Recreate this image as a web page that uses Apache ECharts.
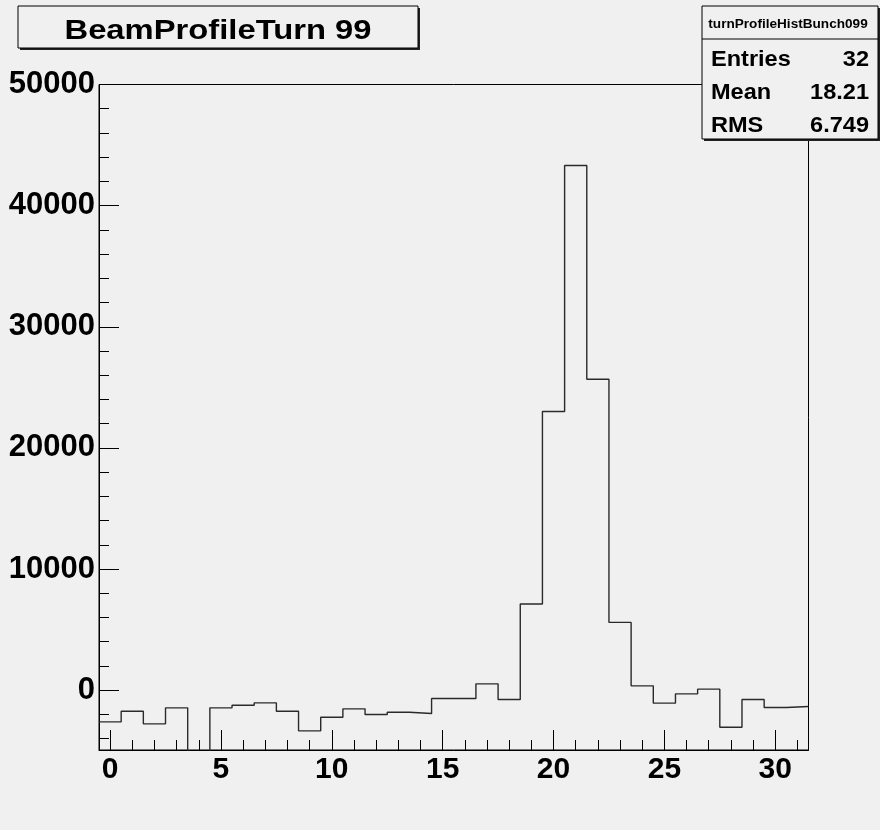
<!DOCTYPE html>
<html>
<head>
<meta charset="utf-8">
<script src="https://cdn.jsdelivr.net/npm/echarts@6/dist/echarts.min.js"></script>
<style>
html,body{margin:0;padding:0;background:#f0f0f0;}
#chart{width:880px;height:830px;}
</style>
</head>
<body>
<div id="chart"></div>
<script>
// ---- data ----
var titleText = "BeamProfileTurn 99";
var histName = "turnProfileHistBunch099";
var statsLabels = ["Entries", "Mean", "RMS"];
var statsValues = ["32", "18.21", "6.749"];
var binCenters = [0,1,2,3,4,5,6,7,8,9,10,11,12,13,14,15,16,17,18,19,20,21,22,23,24,25,26,27,28,29,30,31];
var binValues = [-2620,-1736,-2782,-1460,-5500,-1460,-1240,-1047,-1736,-3360,
                 -2231,-1543,-2011,-1818,-1928,-689,-689,521,-771,7107,
                 23000,43310,25670,5595,357,-1074,-304,83,-3058,-771,
                 -1433,-1350];
var xMajorTicks = [0,5,10,15,20,25,30];
var xMinorTicks = [1,2,3,4,6,7,8,9,11,12,13,14,16,17,18,19,21,22,23,24,26,27,28,29,31];
var yMajorTicks = [0,10000,20000,30000,40000,50000];
var yMinorTicks = [-4000,-2000,2000,4000,6000,8000,12000,14000,16000,18000,22000,24000,26000,28000,32000,34000,36000,38000,42000,44000,46000,48000];
var xMin = -0.5, xMax = 31.5, yMin = -4940, yMax = 50000;

// histogram outline: value held from lower bin edge to upper edge
var stepData = [];
for (var i = 0; i < binCenters.length; i++) {
  stepData.push([binCenters[i] - 0.5, binValues[i]]);
}
stepData.push([binCenters[binCenters.length - 1] + 0.5, binValues[binValues.length - 1]]);

var FONT = '"Liberation Sans", Arial, Helvetica, sans-serif';
function plain(v) { return String(v); }

var chart = echarts.init(document.getElementById('chart'), null, {renderer: 'canvas'});

function xAxisDef(ticks, len, showLabels) {
  return {
    type: 'value', min: xMin, max: xMax, position: 'bottom', offset: 0,
    axisLine: {show: showLabels, onZero: false, lineStyle: {color: '#000', width: 1}},
    splitLine: {show: false},
    axisTick: {show: true, inside: true, length: len, customValues: ticks, lineStyle: {color: '#000', width: 1}},
    axisLabel: {show: showLabels, customValues: xMajorTicks, margin: 5, color: '#000', formatter: plain,
      fontFamily: FONT, fontWeight: 'bold', fontSize: 30},
    minorTick: {show: false}
  };
}
function yAxisDef(ticks, len, showLabels) {
  return {
    type: 'value', min: yMin, max: yMax, position: 'left', offset: 0,
    axisLine: {show: showLabels, onZero: false, lineStyle: {color: '#000', width: 1}},
    splitLine: {show: false},
    axisTick: {show: true, inside: true, length: len, customValues: ticks, lineStyle: {color: '#000', width: 1}},
    axisLabel: {show: showLabels, customValues: yMajorTicks, margin: 4, color: '#000', formatter: plain,
      fontFamily: FONT, fontWeight: 'bold', fontSize: 31},
    minorTick: {show: false}
  };
}

function statText(x, y, txt, align) {
  return {type: 'text', x: x, y: y, scaleX: 1.07, z: 102,
    style: {text: txt, font: 'bold 22px ' + FONT, fill: '#000', align: align, verticalAlign: 'middle'}};
}

var option = {
  backgroundColor: '#f0f0f0',
  animation: false,
  grid: {left: 99, top: 84.5, right: 71.5, bottom: 80, show: true,
    borderColor: '#000', borderWidth: 1, backgroundColor: 'transparent', containLabel: false},
  xAxis: [xAxisDef(xMajorTicks, 20, true), xAxisDef(xMinorTicks, 10, false)],
  yAxis: [yAxisDef(yMajorTicks, 20, true), yAxisDef(yMinorTicks, 10, false)],
  series: [{
    type: 'line', xAxisIndex: 0, yAxisIndex: 0,
    data: stepData, step: 'end', symbol: 'none', clip: true,
    lineStyle: {color: '#2a2a2a', width: 1.4}
  }],
  graphic: [
    // title box
    {type: 'rect', shape: {x: 20, y: 8, width: 400, height: 42}, style: {fill: '#222'}, z: 100},
    {type: 'rect', shape: {x: 18, y: 6, width: 400, height: 42}, style: {fill: '#f0f0f0', stroke: '#000', lineWidth: 1}, z: 101},
    {type: 'text', x: 218, y: 31, scaleX: 1.17, z: 102,
      style: {text: titleText, font: 'bold 28px ' + FONT, fill: '#000', align: 'center', verticalAlign: 'middle'}},
    // stats box
    {type: 'rect', shape: {x: 704, y: 8, width: 176, height: 133}, style: {fill: '#222'}, z: 100},
    {type: 'rect', shape: {x: 702, y: 6, width: 176, height: 133}, style: {fill: '#f0f0f0', stroke: '#000', lineWidth: 1}, z: 101},
    {type: 'line', shape: {x1: 702, y1: 39, x2: 878, y2: 39}, style: {stroke: '#000', lineWidth: 1}, z: 102},
    {type: 'text', x: 788, y: 24, z: 102,
      style: {text: histName, font: 'bold 13.6px ' + FONT, fill: '#000', align: 'center', verticalAlign: 'middle'}},
    statText(711, 60, statsLabels[0], 'left'),
    statText(869, 60, statsValues[0], 'right'),
    statText(711, 93, statsLabels[1], 'left'),
    statText(869, 93, statsValues[1], 'right'),
    statText(711, 126, statsLabels[2], 'left'),
    statText(869, 126, statsValues[2], 'right')
  ]
};
chart.setOption(option);
</script>
</body>
</html>
